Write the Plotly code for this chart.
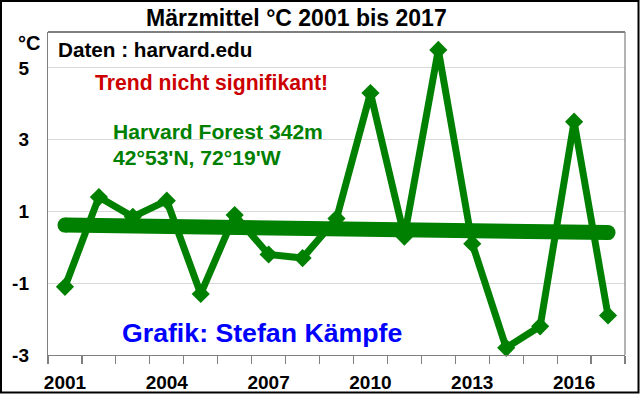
import plotly.graph_objects as go

years = list(range(2001, 2018))
temps = [-1.1, 1.4, 0.85, 1.3, -1.3, 0.9, -0.2, -0.3, 0.8, 4.3, 0.3, 5.5, 0.1, -2.8, -2.2, 3.5, -1.9]
trend_years = [2001, 2017]
trend_vals = [0.62, 0.41]
x_ticks = [2001, 2004, 2007, 2010, 2013, 2016]
y_ticks = [-3, -1, 1, 3, 5]

W, H = 640, 394
L, R, T, B = 48, 625, 32, 355

def px(x):
    return (x - L) / (R - L)

def py(y):
    return (B - y) / (B - T)

GREEN = "#008000"
FONT = "Liberation Sans, Arial, sans-serif"

fig = go.Figure()
fig.add_trace(go.Scatter(
    x=years, y=temps, mode="lines+markers",
    line=dict(color=GREEN, width=7),
    marker=dict(symbol="diamond", size=14, color=GREEN),
    hoverinfo="skip", showlegend=False, cliponaxis=False))
fig.add_trace(go.Scatter(
    x=trend_years, y=trend_vals, mode="lines+markers",
    line=dict(color=GREEN, width=15),
    marker=dict(symbol="circle", size=15, color=GREEN),
    hoverinfo="skip", showlegend=False, cliponaxis=False))

annos = []
def txt(text, x, y, size, color, xanchor="left", bold=True):
    annos.append(dict(
        text=f"<b>{text}</b>" if bold else text,
        xref="paper", yref="paper", x=px(x), y=py(y),
        xanchor=xanchor, yanchor="middle", showarrow=False,
        font=dict(family=FONT, size=size, color=color)))

txt("Märzmittel °C 2001 bis 2017", 296, 18, 23, "black", xanchor="center")
txt("°C", 16, 43, 20, "black")
txt("Daten : harvard.edu", 56, 50, 20.7, "black")
txt("Trend nicht signifikant!", 93, 83, 21.2, "#cc0000")
txt("Harvard Forest 342m", 111, 131, 21.1, GREEN)
txt("42°53'N, 72°19'W", 111, 157, 21.1, GREEN)
txt("Grafik: Stefan Kämpfe", 120, 333, 26.7, "#0000ff")

shapes = [
    dict(type="rect", xref="paper", yref="paper",
         x0=px(1), x1=px(638.5), y0=py(392.5), y1=py(1),
         line=dict(color="black", width=2)),
    dict(type="line", xref="paper", yref="paper",
         x0=0, x1=1, y0=1, y1=1, line=dict(color="black", width=1.2)),
    dict(type="line", xref="paper", yref="paper",
         x0=1, x1=1, y0=0, y1=1, line=dict(color="#808080", width=1.2)),
]

fig.update_layout(
    width=W, height=H,
    margin=dict(l=L, r=W - R, t=T, b=H - B, autoexpand=False),
    paper_bgcolor="white", plot_bgcolor="white",
    annotations=annos, shapes=shapes,
    xaxis=dict(
        range=[2000.5, 2017.5], tickmode="array", tickvals=x_ticks,
        ticktext=[f"<b>{v}</b>" for v in x_ticks],
        ticks="", showgrid=False, zeroline=False, automargin=False,
        showline=True, linecolor="#808080", linewidth=1.2,
        tickfont=dict(family=FONT, size=19, color="black"),
        ticklabelstandoff=10,
        minor=dict(tickmode="array", tickvals=[y + 0.5 for y in range(2000, 2018)],
                   ticks="outside", ticklen=8, tickcolor="#808080", tickwidth=1.2,
                   showgrid=False),
    ),
    yaxis=dict(
        range=[-3, 6], tickmode="array", tickvals=y_ticks,
        ticktext=[f"<b>{v}</b>" for v in y_ticks],
        ticks="", showgrid=True, gridcolor="#d9d9d9", gridwidth=1,
        zeroline=False, showline=True, linecolor="#808080", linewidth=1.2,
        automargin=False,
        tickfont=dict(family=FONT, size=19, color="black"),
        ticklabelstandoff=14,
    ),
)

fig.write_html(
    "out.html",
    config={"displayModeBar": False, "staticPlot": True},
    post_script="document.body.style.margin='0';document.body.style.overflow='hidden';",
)
